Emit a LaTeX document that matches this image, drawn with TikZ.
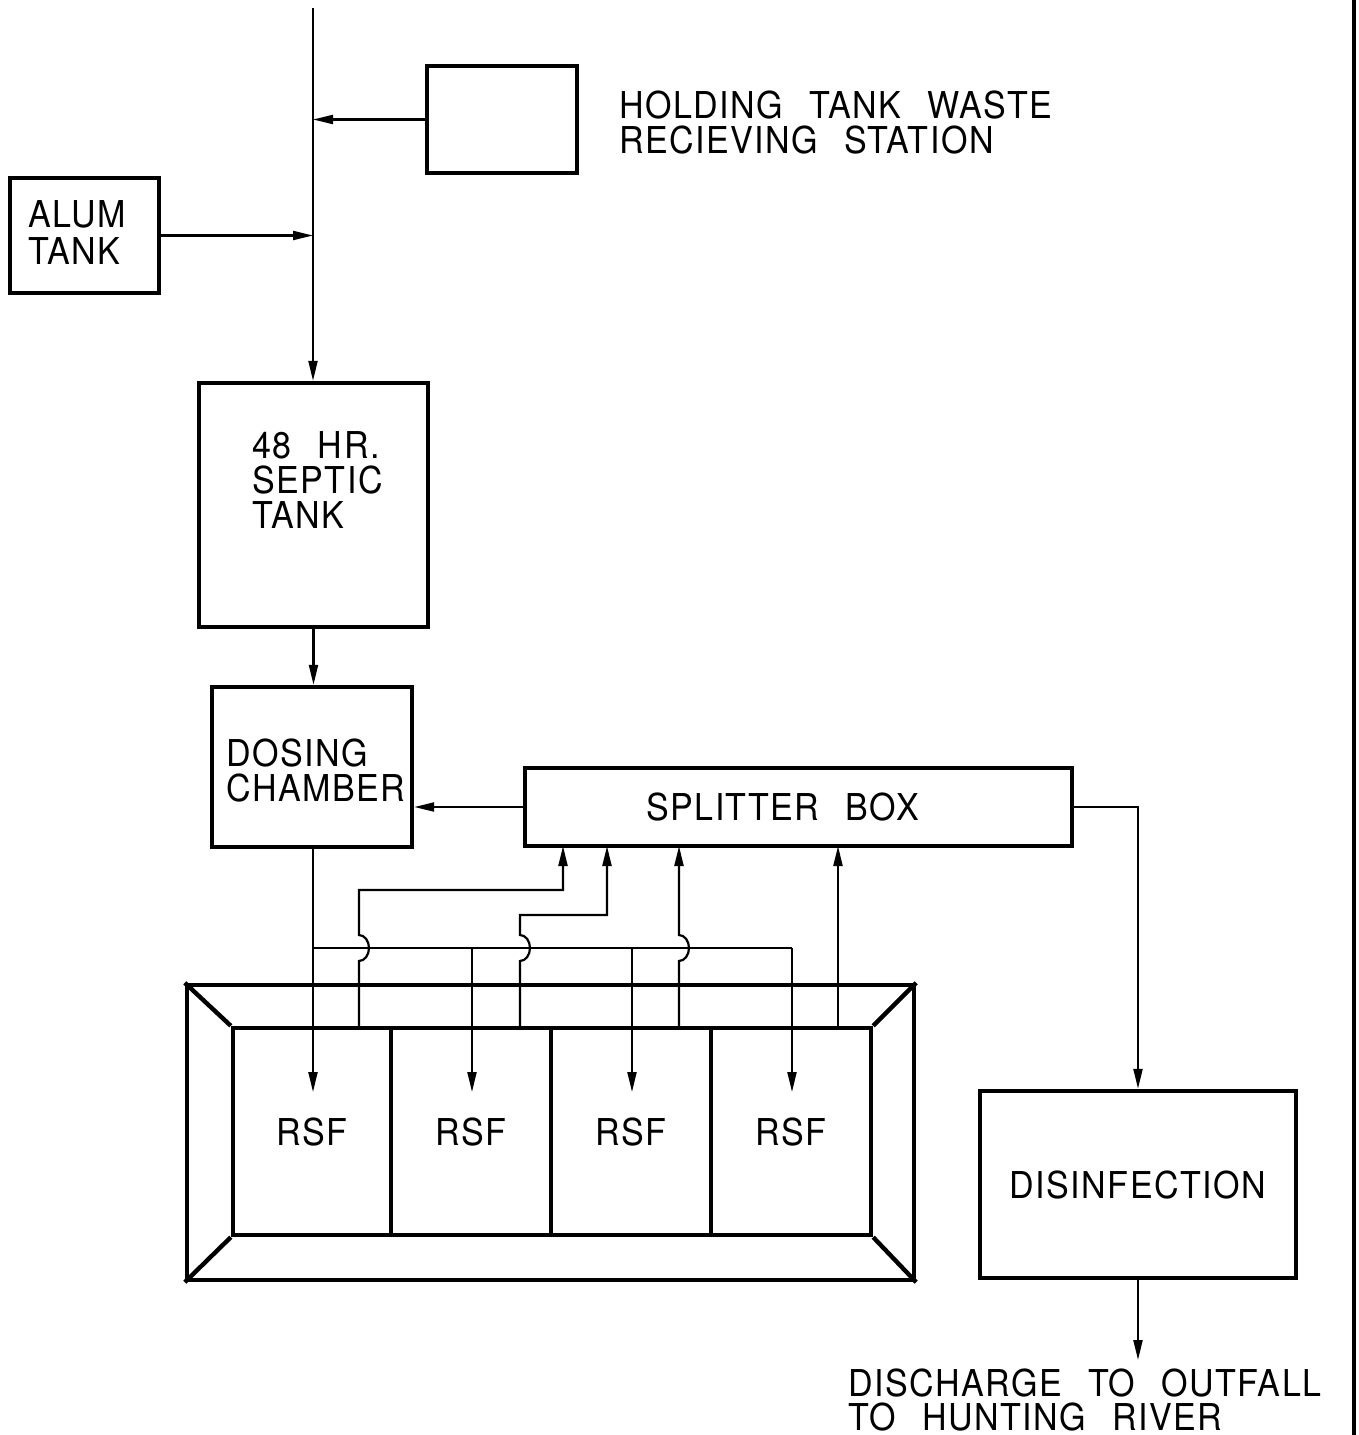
\documentclass[tikz,border=0pt]{standalone}
\usepackage{fontspec}
\setsansfont{TeX Gyre Heros}[FakeStretch=0.92, LetterSpace=4, WordSpace=2.4]
\usetikzlibrary{arrows.meta}
\begin{document}
\begin{tikzpicture}[x=0.5pt,y=-0.5pt,
  box/.style={draw, line width=2.2pt, inner sep=0pt, rectangle},
  pipe/.style={line width=1.1pt},
  flow/.style={pipe, -{Triangle[length=10pt,width=4.5pt]}},
  txt/.style={font=\sffamily\fontsize{18.5}{17}\selectfont},
  lbl/.style={txt, align=left, inner sep=0pt, anchor=north west}
]
\useasboundingbox (0,0) rectangle (1359,1435);

% boxes
\node[box, minimum width=75pt, minimum height=53.5pt] (hold) at (502,119.5) {};
\node[box, minimum width=74.5pt, minimum height=57.5pt] (alum) at (84.5,235.5) {};
\node[box, minimum width=114.5pt, minimum height=122pt] (septic) at (313.5,505) {};
\node[box, minimum width=100pt, minimum height=80pt] (dosing) at (312,767) {};
\node[box, minimum width=273.5pt, minimum height=39pt,
      label={[txt,xshift=-8pt]center:SPLITTER BOX}] (split) at (798.5,807) {};
\node[box, txt, minimum width=158pt, minimum height=93.5pt] (disinf) at (1138,1184.5) {DISINFECTION};

% RSF bank
\node[box, minimum width=363.5pt, minimum height=147.5pt] (rsfbox) at (550.5,1132.5) {};
\node[box, txt, minimum width=79pt, minimum height=103.5pt] (c1) at (312,1131.5) {RSF};
\node[box, txt, minimum width=80pt, minimum height=103.5pt] (c2) at (471,1131.5) {RSF};
\node[box, txt, minimum width=80pt, minimum height=103.5pt] (c3) at (631,1131.5) {RSF};
\node[box, txt, minimum width=80pt, minimum height=103.5pt] (c4) at (791,1131.5) {RSF};
\draw[line width=2.2pt] (rsfbox.north west) -- (c1.north west);
\draw[line width=2.2pt] (rsfbox.south west) -- (c1.south west);
\draw[line width=2.2pt] (rsfbox.north east) -- (c4.north east);
\draw[line width=2.2pt] (rsfbox.south east) -- (c4.south east);

% labels
\node[lbl, font=\sffamily\fontsize{18.5}{17.5}\selectfont] (holdtxt) at (619,90) {HOLDING TANK WASTE\\RECIEVING STATION};
\node[lbl, font=\sffamily\fontsize{18.5}{18.5}\selectfont] (alumtxt) at (28,200) {ALUM\\TANK};
\node[lbl, font=\sffamily\fontsize{18.5}{17.5}\selectfont] (septictxt) at (252,431) {48 HR.\\SEPTIC\\TANK};
\node[lbl, font=\sffamily\fontsize{18.5}{17.5}\selectfont] (dosingtxt) at (226,738) {DOSING\\CHAMBER};
\node[lbl, font=\sffamily\fontsize{18.5}{17}\selectfont] (distxt) at (848,1368) {DISCHARGE TO OUTFALL\\TO HUNTING RIVER};

% main feed line
\coordinate (src) at (313,8);
\draw[flow] (src) -- (src |- septic.north);
\draw[flow] (hold.west) -- (hold.west -| src);
\draw[flow] (alum.east) -- (alum.east -| src);
\draw[flow] (septic.south) -- (septic.south |- dosing.north);
\draw[flow] (split.west) -- (split.west -| dosing.east);
\draw[flow] (split.east) -| (disinf.north);
\coordinate (out) at (1138,1360);
\draw[flow] (disinf.south) -- (out);

% distribution header from dosing chamber
\coordinate (hdr) at (313,948);
\coordinate (h2) at (472,948);
\coordinate (h3) at (632,948);
\coordinate (h4) at (792,948);
\coordinate (t1) at (313,1092);
\coordinate (t2) at (472,1092);
\coordinate (t3) at (632,1092);
\coordinate (t4) at (792,1092);
\draw[flow] (hdr |- dosing.south) -- (t1);
\draw[pipe] (hdr) -- (h4);
\draw[flow] (h2) -- (t2);
\draw[flow] (h3) -- (t3);
\draw[flow] (h4) -- (t4);

% return lines to splitter box
\coordinate (r1) at (359,890);
\coordinate (r2) at (520,915);
\coordinate (u1) at (563,846);
\coordinate (u2) at (607,846);
\coordinate (u3) at (679,846);
\coordinate (u4) at (838,846);
\draw[flow] (c1.north -| r1) -- (359,961) arc[start angle=90, end angle=-90, x radius=10, y radius=13] -- (r1) -| (u1);
\draw[flow] (c2.north -| r2) -- (520,961) arc[start angle=90, end angle=-90, x radius=10, y radius=13] -- (r2) -| (u2);
\draw[flow] (c3.north -| u3) -- (679,961) arc[start angle=90, end angle=-90, x radius=10, y radius=13] -- (u3);
\draw[flow] (c4.north -| u4) -- (u4);

% right border
\draw[line width=2.2pt] (1354,0) -- (1354,1435);
\end{tikzpicture}
\end{document}
